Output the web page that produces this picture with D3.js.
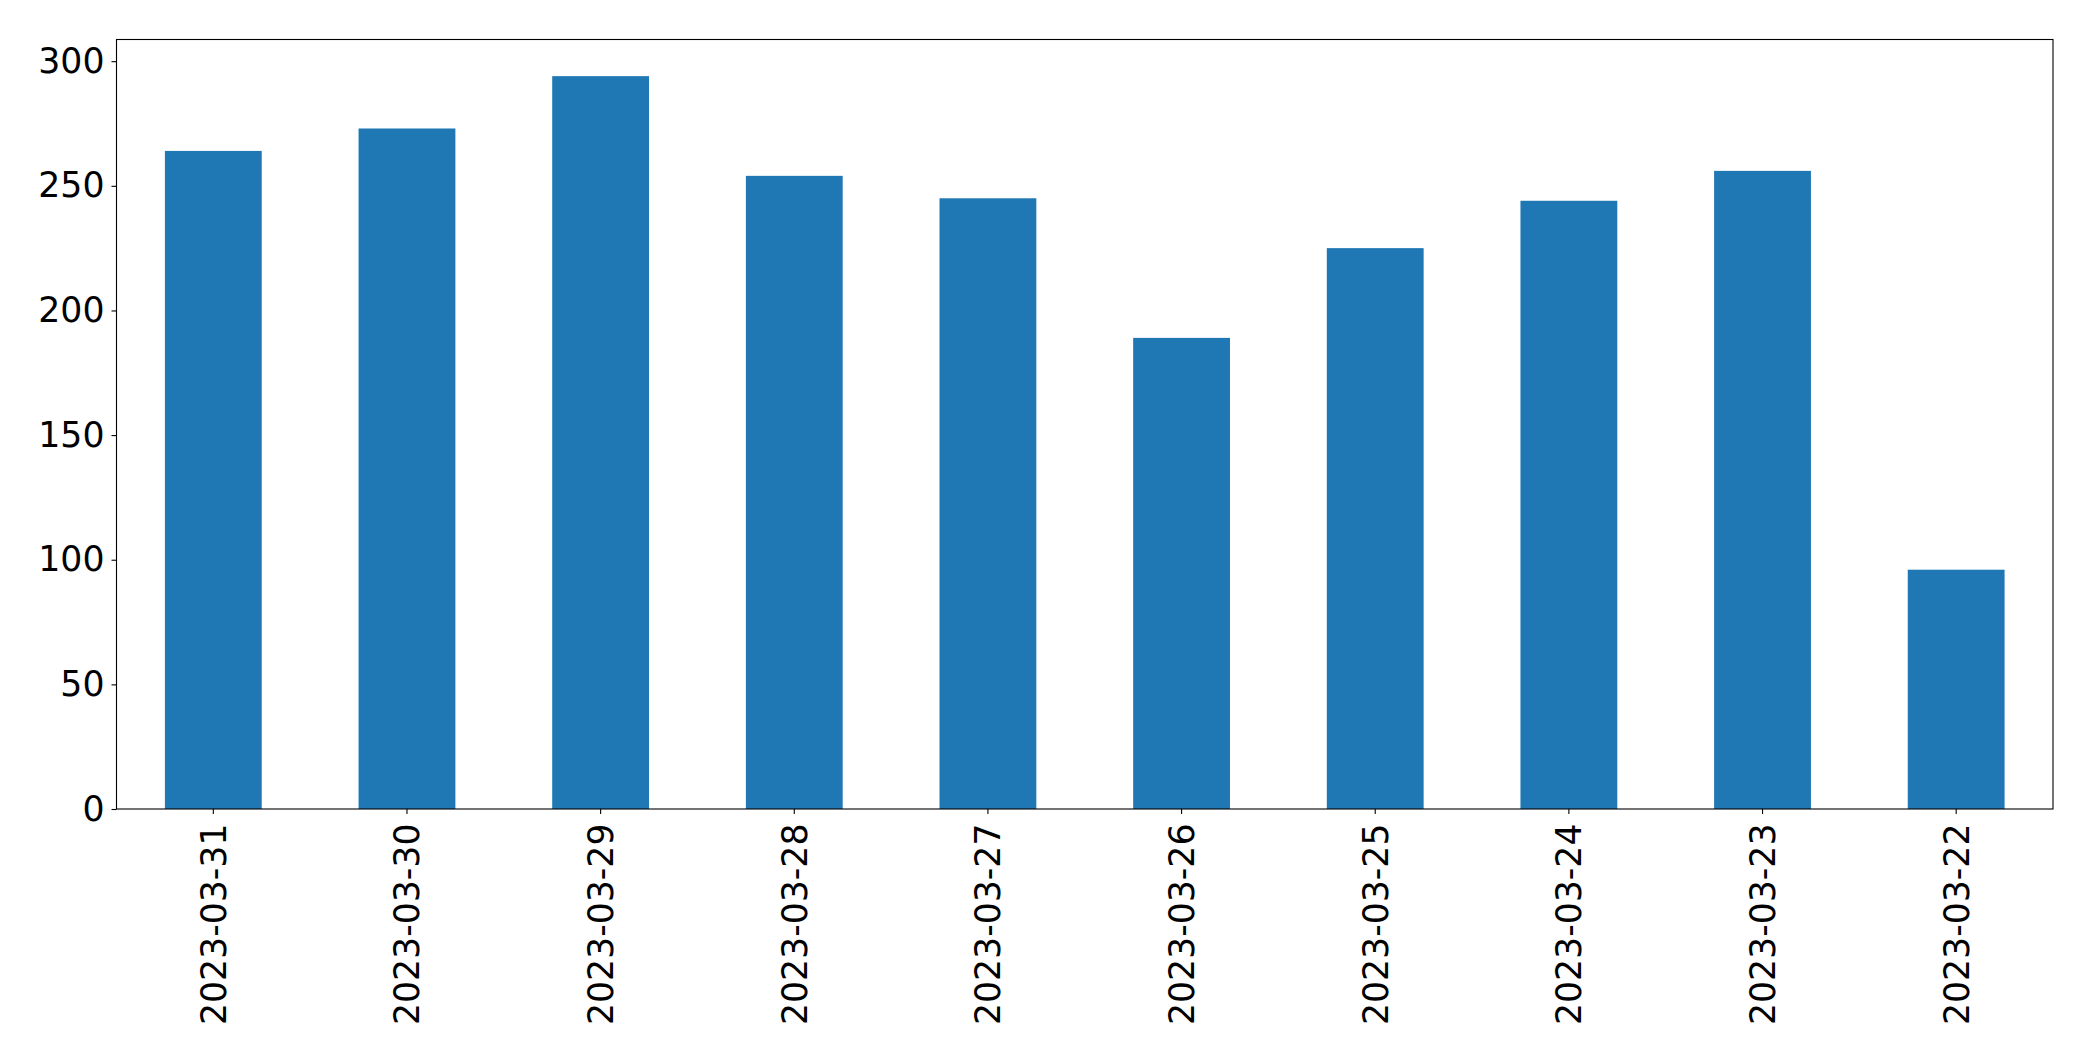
<!DOCTYPE html>
<html>
<head>
<meta charset="utf-8">
<script src="https://cdn.jsdelivr.net/npm/d3@7"></script>
<style>
  html, body { margin: 0; padding: 0; background: #fff; }
  svg { display: block; }
  .tick text { font-family: "DejaVu Sans", sans-serif; font-size: 34.7px; fill: #000; }
</style>
</head>
<body>
<svg id="chart" width="2093" height="1061"></svg>
<script>
const categories = ["2023-03-31","2023-03-30","2023-03-29","2023-03-28","2023-03-27","2023-03-26","2023-03-25","2023-03-24","2023-03-23","2023-03-22"];
const values = [264, 273, 294, 254, 245, 189, 225, 244, 256, 96];
const yTicks = [0, 50, 100, 150, 200, 250, 300];

(function () {
const mLeft = 116.5, mRight = 2053, mTop = 39.5, mBottom = 809;

const svg = d3.select("#chart");

const x = d3.scaleBand()
  .domain(categories)
  .range([mLeft, mRight])
  .paddingInner(0.5)
  .paddingOuter(0.25);

const y = d3.scaleLinear()
  .domain([0, d3.max(values) * 1.05])
  .range([mBottom, mTop]);

svg.append("g")
  .selectAll("rect")
  .data(values)
  .join("rect")
  .attr("x", (d, i) => x(categories[i]))
  .attr("width", x.bandwidth())
  .attr("y", d => y(d))
  .attr("height", d => y(0) - y(d))
  .attr("fill", "#1f77b4");

const yAxis = svg.append("g")
  .attr("transform", `translate(${mLeft},0)`)
  .call(d3.axisLeft(y).tickValues(yTicks).tickSize(5).tickSizeOuter(0).tickPadding(7).tickFormat(d3.format("d")));
yAxis.select(".domain").remove();
yAxis.selectAll(".tick line").attr("stroke", "#000").attr("stroke-width", 1.1);

const xAxis = svg.append("g")
  .attr("transform", `translate(0,${mBottom})`)
  .call(d3.axisBottom(x).tickSize(5).tickSizeOuter(0));
xAxis.select(".domain").remove();
xAxis.selectAll(".tick line").attr("stroke", "#000").attr("stroke-width", 1.1);
xAxis.selectAll(".tick text")
  .attr("transform", "rotate(-90)")
  .attr("x", -14.5)
  .attr("y", 0)
  .attr("dy", "0.36em")
  .attr("text-anchor", "end");

svg.append("rect")
  .attr("x", mLeft)
  .attr("y", mTop)
  .attr("width", mRight - mLeft)
  .attr("height", mBottom - mTop)
  .attr("fill", "none")
  .attr("stroke", "#000")
  .attr("stroke-width", 1.1);
})();
</script>
</body>
</html>
